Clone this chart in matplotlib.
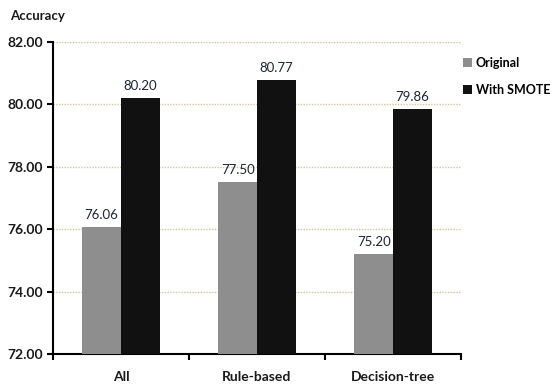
import matplotlib
matplotlib.use("Agg")
import matplotlib.pyplot as plt
import numpy as np

categories = ["All", "Rule-based", "Decision-tree"]
original = [76.06, 77.50, 75.20]
with_smote = [80.20, 80.77, 79.86]
series_names = ["Original", "With SMOTE"]
yticks = [72.0, 74.0, 76.0, 78.0, 80.0, 82.0]

plt.rcParams['font.family'] = ['Lato', 'DejaVu Sans']

fig = plt.figure(figsize=(5.54, 3.85), dpi=100)
ax = fig.add_axes([0.0957, 0.0805, 0.7365, 0.8104])

x = np.arange(len(categories))
w = 0.285
b1 = ax.bar(x - w / 2, original, w, color="#8e8e8e", label=series_names[0], zorder=3)
b2 = ax.bar(x + w / 2, with_smote, w, color="#111111", label=series_names[1], zorder=3)

for bars, vals in ((b1, original), (b2, with_smote)):
    for rect, v in zip(bars, vals):
        ax.text(rect.get_x() + rect.get_width() / 2, v + 0.2, f"{v:.2f}",
                ha="center", va="bottom", fontsize=9.5, color="#1d2435")

ax.set_xlim(-0.5, len(categories) - 0.5)
ax.set_ylim(72, 82)
ax.set_yticks(yticks)
ax.set_yticklabels([f"{t:.2f}" for t in yticks], fontsize=10, fontweight="bold", color="#1a1a1a")
ax.yaxis.grid(True, linestyle=(0, (1, 1)), color="#cfc7a0", linewidth=1.0, zorder=0)

# category labels centred, tick marks on the boundaries
ax.set_xticks(x)
ax.set_xticklabels(categories, fontsize=10, fontweight="bold", color="#1a1a1a")
ax.tick_params(axis="x", length=0, pad=12)
ax.set_xticks(np.arange(-0.5, len(categories), 1.0), minor=True)
ax.tick_params(axis="x", which="minor", length=4, width=1.5, direction="out", color="black")
ax.tick_params(axis="y", length=4, width=1.5, direction="out", pad=3)

for s in ("top", "right"):
    ax.spines[s].set_visible(False)
for s in ("left", "bottom"):
    ax.spines[s].set_linewidth(1.5)

fig.text(0.018, 0.975, "Accuracy", fontsize=9.5, fontweight="bold", ha="left", va="top", color="#1a1a1a")

leg = fig.legend(handles=[b1, b2], labels=series_names, loc="upper left",
                 bbox_to_anchor=(0.832, 0.858), frameon=False, fontsize=9,
                 handlelength=0.7, handleheight=0.7, handletextpad=0.3,
                 labelspacing=1.2, borderpad=0.2, borderaxespad=0.0)
for t in leg.get_texts():
    t.set_fontweight("bold")

fig.savefig("out.png", dpi=100)
